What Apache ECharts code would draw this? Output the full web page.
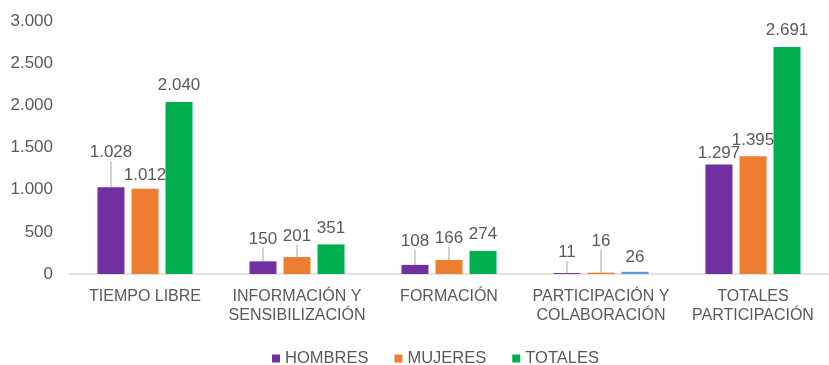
<!DOCTYPE html>
<html>
<head>
<meta charset="utf-8">
<script src="https://cdn.jsdelivr.net/npm/echarts@6/dist/echarts.min.js"></script>
<style>
  html, body { margin: 0; padding: 0; background: #ffffff; }
  #chart { width: 829px; height: 365px; }
</style>
</head>
<body>
<div id="chart"></div>
<script>
// Categories and values per group
const categories = [
  'TIEMPO LIBRE',
  'INFORMACIÓN Y\nSENSIBILIZACIÓN',
  'FORMACIÓN',
  'PARTICIPACIÓN Y\nCOLABORACIÓN',
  'TOTALES\nPARTICIPACIÓN'
];
const hombres = [1028, 150, 108, 11, 1297];
const mujeres = [1012, 201, 166, 16, 1395];
const totales = [2040, 351, 274, 26, 2691];
const seriesNames = ['HOMBRES', 'MUJERES', 'TOTALES'];
const yTicks = { min: 0, max: 3000, interval: 500 };

// Vertical shift (px) of each value label from its default spot above the bar
const labelShift = [
  [-18, -6, -7, -4, 5],
  [3, -4, -5, -15, 0],
  [0, 0, 0, 2, 0]
];
// Which labels are tied to their bar with a leader line
const leader = [
  [true, true, true, true, false],
  [false, true, true, true, false],
  [false, false, false, false, false]
];

const colors = ['#7030A0', '#ED7D31', '#00B050'];
const textColor = '#595959';
const font = 'Liberation Sans, Arial, sans-serif';

function fmt(v) {
  return String(v).replace(/\B(?=(\d{3})+(?!\d))/g, '.');
}

function makeSeries(name, values, idx) {
  return {
    name: name,
    type: 'bar',
    barWidth: 27,
    barGap: '26%',
    data: values.map(function (v, i) {
      const item = { value: v, labelLine: { show: leader[idx][i] } };
      // the small total for participation is drawn in blue
      if (idx === 2 && i === 3) item.itemStyle = { color: '#5B9BD5' };
      return item;
    }),
    itemStyle: { color: colors[idx] },
    label: {
      show: true,
      position: 'top',
      distance: 8,
      color: textColor,
      fontSize: 17,
      fontFamily: font,
      formatter: function (p) { return fmt(p.value); }
    },
    labelLayout: function (p) {
      const dy = labelShift[idx][p.dataIndex];
      return dy ? { dy: dy } : {};
    },
    labelLine: {
      show: false,
      lineStyle: { color: '#A6A6A6', width: 1 }
    }
  };
}

const chart = echarts.init(document.getElementById('chart'), null, { renderer: 'canvas' });
chart.setOption({
  animation: false,
  backgroundColor: '#ffffff',
  grid: { left: 69, right: 0, top: 21, bottom: 91, containLabel: false },
  legend: {
    bottom: -7,
    left: 267,
    itemWidth: 8,
    itemHeight: 8,
    itemGap: 26,
    icon: 'rect',
    textStyle: {
      color: textColor,
      fontSize: 16.5,
      fontFamily: font
    },
    data: seriesNames
  },
  xAxis: {
    type: 'category',
    data: categories,
    axisLine: { lineStyle: { color: '#D9D9D9', width: 1.5 } },
    axisTick: { show: false },
    axisLabel: {
      color: textColor,
      fontSize: 16,
      lineHeight: 19,
      interval: 0,
      margin: 13,
      fontFamily: font
    }
  },
  yAxis: {
    type: 'value',
    min: yTicks.min,
    max: yTicks.max,
    interval: yTicks.interval,
    splitLine: { show: false },
    axisLine: { show: false },
    axisTick: { show: false },
    axisLabel: {
      color: textColor,
      fontSize: 17,
      margin: 16,
      fontFamily: font,
      formatter: function (v) { return fmt(v); }
    }
  },
  series: [
    makeSeries(seriesNames[0], hombres, 0),
    makeSeries(seriesNames[1], mujeres, 1),
    makeSeries(seriesNames[2], totales, 2)
  ]
});
</script>
</body>
</html>
